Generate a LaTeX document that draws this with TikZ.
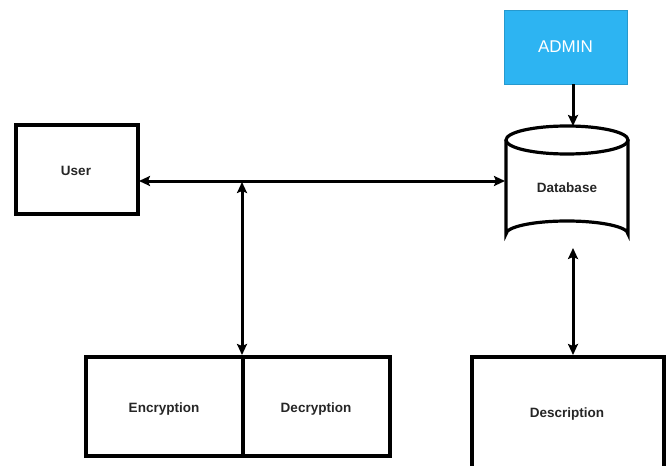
\documentclass[tikz,border=0pt]{standalone}
\usepackage{fontspec}
\setmainfont{Liberation Sans}
\usetikzlibrary{arrows.meta}
\definecolor{adminblue}{HTML}{2DB4F2}
\tikzset{
  box/.style={draw=black, line width=3.5pt, fill=white},
  lbl/.style={font=\fontsize{13.5}{15}\selectfont\bfseries, text=black!85},
  tip/.tip={Stealth[length=11pt,width=10pt,inset=2pt]},
  conn/.style={line width=3pt, -tip},
  dconn/.style={line width=3pt, tip-tip},
}
\begin{document}
\begin{tikzpicture}[x=1pt,y=-1pt]
\useasboundingbox (0,0) rectangle (668,465);
\fill[white] (0,0) rectangle (668,465);
% ADMIN
\node[draw=adminblue!85!black, line width=0.8pt, fill=adminblue, minimum width=123pt, minimum height=74pt, inner sep=0pt,
  text=white, font=\fontsize{17}{20}\selectfont] (admin) at (565.5,47) {ADMIN};
% User
\draw[box] (16,125) rectangle (138,214);
\node[lbl] (user) at (76,171) {User};
\coordinate (userE) at (139,181);
% Database cylinder
\draw[line width=3.2pt, fill=white] (506,140) -- (506,234) arc[start angle=180,end angle=360,x radius=61,y radius=13] -- (628,140);
\draw[line width=3.2pt, fill=white] (567,140) ellipse[x radius=61,y radius=14];
\node[lbl] (db) at (567,188) {Database};
\coordinate (dbW) at (505,181);
\coordinate (dbN) at (573,126);
\coordinate (dbS) at (573,248);
% Encryption / Decryption
\draw[box] (86,357) rectangle (390,456);
\draw[line width=3.5pt] (243,357) -- (243,456);
\node[lbl] (enc) at (164,409) {Encryption};
\node[lbl] (dec) at (316,409) {Decryption};
\coordinate (encN) at (242,355);
% Description
\draw[box] (472,357) rectangle (664,480);
\node[lbl] (desc) at (567,414) {Description};
\coordinate (descN) at (573,355);
% connectors
\draw[dconn] (userE) -- (dbW);
\coordinate (junc) at (242,182);
\draw[dconn] (junc) -- (encN);
\draw[conn] (admin.south -| dbN) -- (dbN);
\draw[dconn] (dbS) -- (descN);
\end{tikzpicture}
\end{document}
